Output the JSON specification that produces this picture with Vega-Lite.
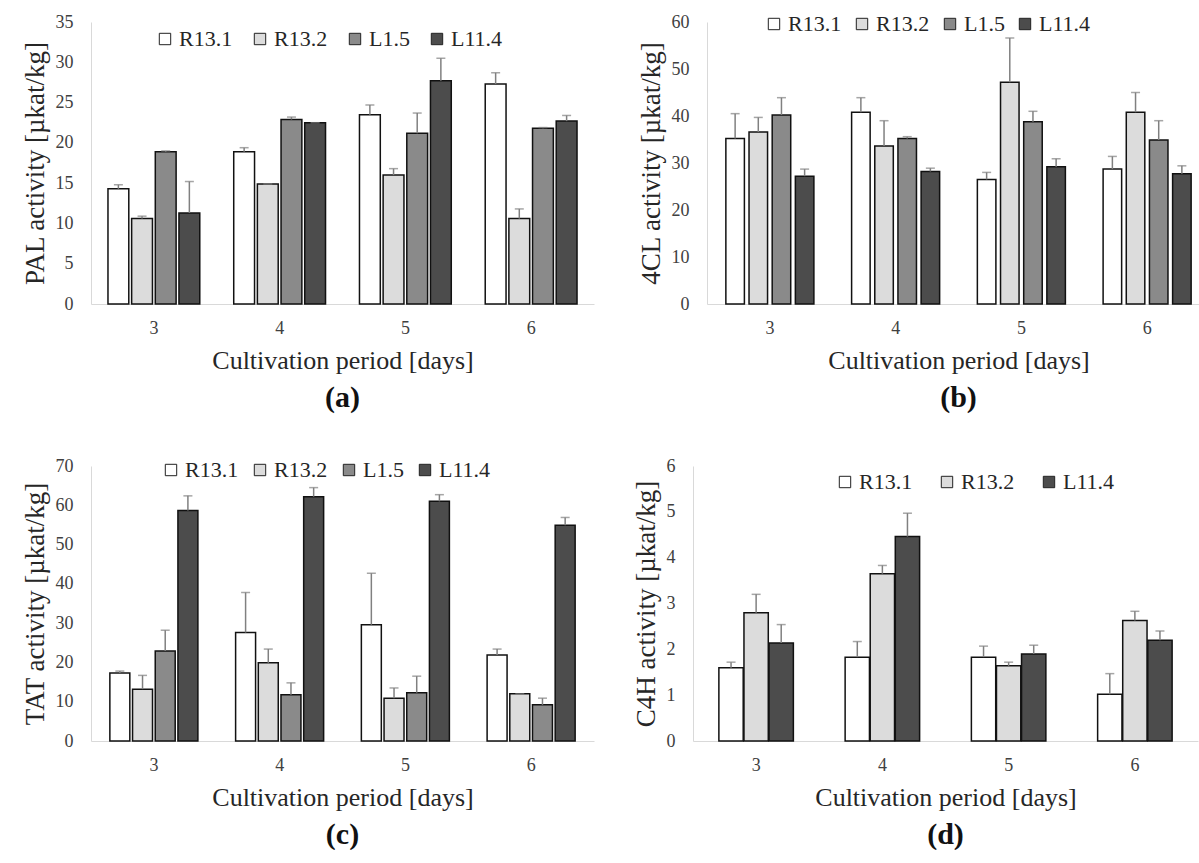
{
  "$schema": "https://vega.github.io/schema/vega-lite/v6.json",
  "padding": {"left": 20, "top": 13, "right": 0, "bottom": 0},
  "background": "white",
  "config": {
    "font": "Liberation Serif",
    "view": {"stroke": null},
    "axis": {"labelFont": "Liberation Serif", "titleFont": "Liberation Serif", "labelColor": "#404040", "titleColor": "#262626", "domainColor": "#d9d9d9", "ticks": false, "grid": false, "titleFontWeight": "normal", "labelFontSize": 18},
    "axisX": {"labelPadding": 15, "titleFontSize": 26, "titlePadding": 10, "labelAngle": 0},
    "axisY": {"labelPadding": 18, "titleFontSize": 27, "titlePadding": 6},
    "legend": {"labelFont": "Liberation Serif", "labelFontSize": 22, "labelColor": "#262626", "symbolType": "square", "symbolSize": 130, "symbolStrokeColor": "#222222", "symbolStrokeWidth": 1, "labelOffset": 3, "title": null, "direction": "horizontal", "orient": "none"},
    "title": {"font": "Liberation Serif", "fontSize": 30, "fontWeight": "bold", "color": "#111111", "orient": "bottom", "anchor": "middle", "offset": 10}
  },
  "resolve": {"scale": {"fill": "independent", "y": "independent", "x": "independent", "xOffset": "independent"}, "legend": {"fill": "independent"}},
  "spacing": 44,
  "vconcat": [
    {
      "resolve": {"scale": {"fill": "independent", "y": "independent", "x": "independent", "xOffset": "independent"}, "legend": {"fill": "independent"}},
      "spacing": 42,
      "hconcat": [
        {
          "width": 503, "height": 282,
          "title": "(a)",
          "data": {"values": [
            {"day": "3", "strain": "R13.1", "value": 14.3, "upper": 14.8},
            {"day": "3", "strain": "R13.2", "value": 10.6, "upper": 10.9},
            {"day": "3", "strain": "L1.5", "value": 18.9, "upper": 19.0},
            {"day": "3", "strain": "L11.4", "value": 11.3, "upper": 15.2},
            {"day": "4", "strain": "R13.1", "value": 18.9, "upper": 19.4},
            {"day": "4", "strain": "R13.2", "value": 14.9, "upper": 14.9},
            {"day": "4", "strain": "L1.5", "value": 22.9, "upper": 23.2},
            {"day": "4", "strain": "L11.4", "value": 22.5, "upper": 22.5},
            {"day": "5", "strain": "R13.1", "value": 23.5, "upper": 24.7},
            {"day": "5", "strain": "R13.2", "value": 16.0, "upper": 16.8},
            {"day": "5", "strain": "L1.5", "value": 21.2, "upper": 23.7},
            {"day": "5", "strain": "L11.4", "value": 27.7, "upper": 30.5},
            {"day": "6", "strain": "R13.1", "value": 27.3, "upper": 28.7},
            {"day": "6", "strain": "R13.2", "value": 10.6, "upper": 11.8},
            {"day": "6", "strain": "L1.5", "value": 21.8, "upper": 21.9},
            {"day": "6", "strain": "L11.4", "value": 22.7, "upper": 23.4}
          ]},
          "encoding": {
            "x": {"field": "day", "type": "nominal", "scale": {"paddingInner": 0.27, "paddingOuter": 0.135}, "axis": {"title": "Cultivation period [days]"}},
            "xOffset": {"field": "strain", "type": "nominal", "scale": {"domain": ["R13.1", "R13.2", "L1.5", "L11.4"], "paddingInner": 0.12}},
            "y": {"field": "value", "type": "quantitative", "scale": {"domain": [0, 35]}, "axis": {"values": [0, 5, 10, 15, 20, 25, 30, 35], "title": "PAL activity [µkat/kg]"}}
          },
          "layer": [
            {"mark": {"type": "bar", "stroke": "#111111", "strokeWidth": 1.5},
             "encoding": {
               "fill": {"field": "strain", "type": "nominal", "scale": {"domain": ["R13.1", "R13.2", "L1.5", "L11.4"], "range": ["#ffffff", "#dcdcdc", "#8a8a8a", "#4c4c4c"]}, "legend": {"legendX": 63, "legendY": 6, "columnPadding": 16}}
             }},
            {"mark": {"type": "rule", "color": "#808080", "strokeWidth": 1.5},
             "encoding": {"y2": {"field": "upper"}}},
            {"mark": {"type": "tick", "color": "#808080", "thickness": 1.5, "size": 9},
             "encoding": {"y": {"field": "upper", "type": "quantitative", "scale": {"domain": [0, 35]}, "axis": {"values": [0, 5, 10, 15, 20, 25, 30, 35], "title": "PAL activity [µkat/kg]"}}}}
          ]
        },
        {
          "width": 503, "height": 282,
          "title": "(b)",
          "data": {"values": [
            {"day": "3", "strain": "R13.1", "value": 35.2, "upper": 40.5},
            {"day": "3", "strain": "R13.2", "value": 36.6, "upper": 39.7},
            {"day": "3", "strain": "L1.5", "value": 40.2, "upper": 43.9},
            {"day": "3", "strain": "L11.4", "value": 27.2, "upper": 28.7},
            {"day": "4", "strain": "R13.1", "value": 40.8, "upper": 43.9},
            {"day": "4", "strain": "R13.2", "value": 33.6, "upper": 39.0},
            {"day": "4", "strain": "L1.5", "value": 35.2, "upper": 35.6},
            {"day": "4", "strain": "L11.4", "value": 28.2, "upper": 28.9},
            {"day": "5", "strain": "R13.1", "value": 26.5, "upper": 28.0},
            {"day": "5", "strain": "R13.2", "value": 47.2, "upper": 56.6},
            {"day": "5", "strain": "L1.5", "value": 38.8, "upper": 41.0},
            {"day": "5", "strain": "L11.4", "value": 29.2, "upper": 30.9},
            {"day": "6", "strain": "R13.1", "value": 28.7, "upper": 31.4},
            {"day": "6", "strain": "R13.2", "value": 40.8, "upper": 45.0},
            {"day": "6", "strain": "L1.5", "value": 34.9, "upper": 39.0},
            {"day": "6", "strain": "L11.4", "value": 27.7, "upper": 29.4}
          ]},
          "encoding": {
            "x": {"field": "day", "type": "nominal", "scale": {"paddingInner": 0.3, "paddingOuter": 0.15}, "axis": {"title": "Cultivation period [days]"}},
            "xOffset": {"field": "strain", "type": "nominal", "scale": {"domain": ["R13.1", "R13.2", "L1.5", "L11.4"], "paddingInner": 0.2}},
            "y": {"field": "value", "type": "quantitative", "scale": {"domain": [0, 60]}, "axis": {"values": [0, 10, 20, 30, 40, 50, 60], "title": "4CL activity [µkat/kg]"}}
          },
          "layer": [
            {"mark": {"type": "bar", "stroke": "#111111", "strokeWidth": 1.5},
             "encoding": {
               "fill": {"field": "strain", "type": "nominal", "scale": {"domain": ["R13.1", "R13.2", "L1.5", "L11.4"], "range": ["#ffffff", "#dcdcdc", "#8a8a8a", "#4c4c4c"]}, "legend": {"legendX": 56, "legendY": -9, "columnPadding": 9}}
             }},
            {"mark": {"type": "rule", "color": "#808080", "strokeWidth": 1.5},
             "encoding": {"y2": {"field": "upper"}}},
            {"mark": {"type": "tick", "color": "#808080", "thickness": 1.5, "size": 9},
             "encoding": {"y": {"field": "upper", "type": "quantitative", "scale": {"domain": [0, 60]}, "axis": {"values": [0, 10, 20, 30, 40, 50, 60], "title": "4CL activity [µkat/kg]"}}}}
          ]
        }
      ]
    },
    {
      "resolve": {"scale": {"fill": "independent", "y": "independent", "x": "independent", "xOffset": "independent"}, "legend": {"fill": "independent"}},
      "spacing": 37,
      "hconcat": [
        {
          "width": 503, "height": 275,
          "title": "(c)",
          "data": {"values": [
            {"day": "3", "strain": "R13.1", "value": 17.3, "upper": 17.8},
            {"day": "3", "strain": "R13.2", "value": 13.2, "upper": 16.7},
            {"day": "3", "strain": "L1.5", "value": 22.9, "upper": 28.2},
            {"day": "3", "strain": "L11.4", "value": 58.7, "upper": 62.4},
            {"day": "4", "strain": "R13.1", "value": 27.6, "upper": 37.8},
            {"day": "4", "strain": "R13.2", "value": 19.9, "upper": 23.4},
            {"day": "4", "strain": "L1.5", "value": 11.8, "upper": 14.8},
            {"day": "4", "strain": "L11.4", "value": 62.2, "upper": 64.5},
            {"day": "5", "strain": "R13.1", "value": 29.6, "upper": 42.7},
            {"day": "5", "strain": "R13.2", "value": 10.9, "upper": 13.5},
            {"day": "5", "strain": "L1.5", "value": 12.3, "upper": 16.5},
            {"day": "5", "strain": "L11.4", "value": 61.0, "upper": 62.7},
            {"day": "6", "strain": "R13.1", "value": 21.9, "upper": 23.4},
            {"day": "6", "strain": "R13.2", "value": 12.0, "upper": 12.0},
            {"day": "6", "strain": "L1.5", "value": 9.2, "upper": 10.9},
            {"day": "6", "strain": "L11.4", "value": 54.9, "upper": 56.9}
          ]},
          "encoding": {
            "x": {"field": "day", "type": "nominal", "scale": {"paddingInner": 0.3, "paddingOuter": 0.15}, "axis": {"title": "Cultivation period [days]"}},
            "xOffset": {"field": "strain", "type": "nominal", "scale": {"domain": ["R13.1", "R13.2", "L1.5", "L11.4"], "paddingInner": 0.12}},
            "y": {"field": "value", "type": "quantitative", "scale": {"domain": [0, 70]}, "axis": {"values": [0, 10, 20, 30, 40, 50, 60, 70], "title": "TAT activity [µkat/kg]"}}
          },
          "layer": [
            {"mark": {"type": "bar", "stroke": "#111111", "strokeWidth": 1.5},
             "encoding": {
               "fill": {"field": "strain", "type": "nominal", "scale": {"domain": ["R13.1", "R13.2", "L1.5", "L11.4"], "range": ["#ffffff", "#dcdcdc", "#8a8a8a", "#4c4c4c"]}, "legend": {"legendX": 69, "legendY": -7, "columnPadding": 10}}
             }},
            {"mark": {"type": "rule", "color": "#808080", "strokeWidth": 1.5},
             "encoding": {"y2": {"field": "upper"}}},
            {"mark": {"type": "tick", "color": "#808080", "thickness": 1.5, "size": 9},
             "encoding": {"y": {"field": "upper", "type": "quantitative", "scale": {"domain": [0, 70]}, "axis": {"values": [0, 10, 20, 30, 40, 50, 60, 70], "title": "TAT activity [µkat/kg]"}}}}
          ]
        },
        {
          "width": 505, "height": 275,
          "title": "(d)",
          "data": {"values": [
            {"day": "3", "strain": "R13.1", "value": 1.60, "upper": 1.72},
            {"day": "3", "strain": "R13.2", "value": 2.80, "upper": 3.20},
            {"day": "3", "strain": "L11.4", "value": 2.14, "upper": 2.54},
            {"day": "4", "strain": "R13.1", "value": 1.83, "upper": 2.17},
            {"day": "4", "strain": "R13.2", "value": 3.65, "upper": 3.83},
            {"day": "4", "strain": "L11.4", "value": 4.46, "upper": 4.97},
            {"day": "5", "strain": "R13.1", "value": 1.83, "upper": 2.07},
            {"day": "5", "strain": "R13.2", "value": 1.64, "upper": 1.72},
            {"day": "5", "strain": "L11.4", "value": 1.90, "upper": 2.09},
            {"day": "6", "strain": "R13.1", "value": 1.02, "upper": 1.47},
            {"day": "6", "strain": "R13.2", "value": 2.63, "upper": 2.83},
            {"day": "6", "strain": "L11.4", "value": 2.20, "upper": 2.40}
          ]},
          "encoding": {
            "x": {"field": "day", "type": "nominal", "scale": {"paddingInner": 0.41, "paddingOuter": 0.205}, "axis": {"title": "Cultivation period [days]"}},
            "xOffset": {"field": "strain", "type": "nominal", "scale": {"domain": ["R13.1", "R13.2", "L11.4"], "paddingInner": 0.03}},
            "y": {"field": "value", "type": "quantitative", "scale": {"domain": [0, 6]}, "axis": {"values": [0, 1, 2, 3, 4, 5, 6], "title": "C4H activity [µkat/kg]"}}
          },
          "layer": [
            {"mark": {"type": "bar", "stroke": "#111111", "strokeWidth": 1.5},
             "encoding": {
               "fill": {"field": "strain", "type": "nominal", "scale": {"domain": ["R13.1", "R13.2", "L11.4"], "range": ["#ffffff", "#dcdcdc", "#4c4c4c"]}, "legend": {"legendX": 141, "legendY": 5, "columnPadding": 23}}
             }},
            {"mark": {"type": "rule", "color": "#808080", "strokeWidth": 1.5},
             "encoding": {"y2": {"field": "upper"}}},
            {"mark": {"type": "tick", "color": "#808080", "thickness": 1.5, "size": 9},
             "encoding": {"y": {"field": "upper", "type": "quantitative", "scale": {"domain": [0, 6]}, "axis": {"values": [0, 1, 2, 3, 4, 5, 6], "title": "C4H activity [µkat/kg]"}}}}
          ]
        }
      ]
    }
  ]
}
